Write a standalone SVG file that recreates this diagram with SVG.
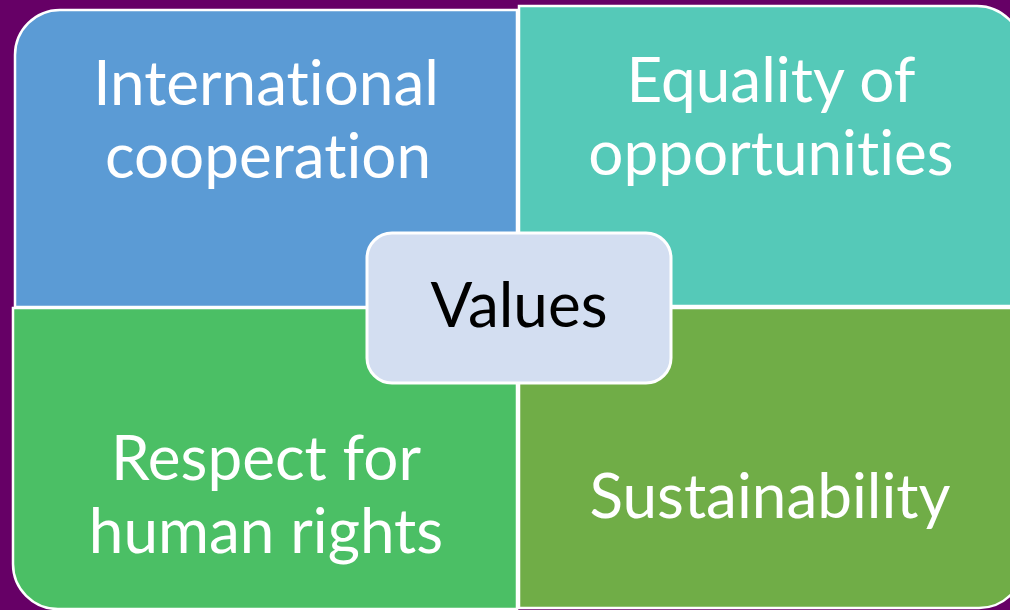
<svg xmlns="http://www.w3.org/2000/svg" width="1010" height="610" viewBox="0 0 1010 610">
<style>
.q{stroke:#FFFFFF;stroke-width:2.5}
.t{font-family:Lato,"Open Sans","Liberation Sans",sans-serif;font-size:62px;fill:#FFFFFF;text-anchor:middle;font-variant-ligatures:none;font-feature-settings:"liga" 0}
.c{font-family:Lato,"Open Sans","Liberation Sans",sans-serif;font-size:62px;fill:#000000;text-anchor:middle}
</style>
<rect x="0" y="0" width="1010" height="610" fill="#660066"/>
<g id="international-cooperation">
<path class="q" fill="#5B9BD5" d="M15,55 A45,45 0 0 1 60,10 L517,10 L517,307 L15,307 Z"/>
<text class="t" x="266" y="105">International</text>
<text class="t" x="268" y="178">cooperation</text>
</g>
<g id="equality-of-opportunities">
<path class="q" fill="#55C9B8" d="M519,6 L977,6 A45,45 0 0 1 1022,51 L1022,306 L519,306 Z"/>
<text class="t" x="771" y="102">Equality of</text>
<text class="t" x="771" y="175">opportunities</text>
</g>
<g id="respect-for-human-rights">
<path class="q" fill="#4BBF65" d="M13,308 L517,308 L517,609 L58,609 A45,45 0 0 1 13,564 Z"/>
<text class="t" x="266" y="480">Respect for</text>
<text class="t" x="266" y="553">human rights</text>
</g>
<g id="sustainability">
<path class="q" fill="#70AD47" d="M519,308 L1024,308 L1024,563 A45,45 0 0 1 979,608 L519,608 Z"/>
<text class="t" x="770" y="518">Sustainability</text>
</g>
<g id="values">
<rect x="367" y="233" width="304" height="150" rx="25" fill="#D3DEF1" stroke="#FFFFFF" stroke-width="3"/>
<text class="c" x="519" y="327">Values</text>
</g>
</svg>
